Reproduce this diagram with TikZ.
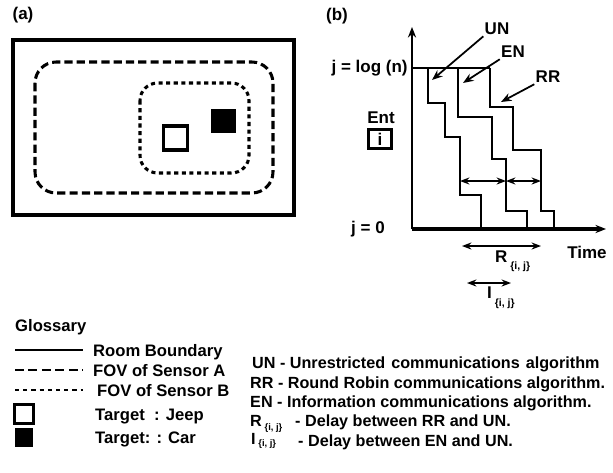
\documentclass[tikz,border=0pt]{standalone}
\usepackage{fontspec}
\setmainfont{Liberation Sans}
\usetikzlibrary{arrows.meta, positioning}

% lowered "{i, j}" index
\newcommand{\ijsub}[2][9]{\raisebox{#2}{\fontsize{#1}{#1}\selectfont\{i, j\}}}

\begin{document}
\begin{tikzpicture}[
  x=0.03cm, y=-0.03cm,
  lbl/.style={font=\fontsize{14.5}{16}\selectfont\bfseries, inner sep=1pt},
  txt/.style={font=\fontsize{14.2}{16}\selectfont\bfseries, inner sep=0pt, anchor=base west},
  keytxt/.style={txt, font=\fontsize{13.8}{16}\selectfont\bfseries},
  wall/.style={line width=3pt},
  fovA/.style={line width=2.6pt, dash pattern=on 7pt off 3.5pt, rounded corners=18pt},
  fovB/.style={line width=2.6pt, dash pattern=on 3.5pt off 3pt, rounded corners=15pt},
  stepline/.style={line width=1.6pt},
  pointer/.style={-{Stealth[length=9pt,width=7pt]}, line width=1.5pt},
  span/.style={{Stealth[length=8pt,width=6pt]}-{Stealth[length=8pt,width=6pt]}, line width=1.6pt},
  jeep/.style={draw, line width=2.6pt, fill=white, minimum size=20.5pt, inner sep=0pt},
  car/.style={fill=black, minimum size=21pt, inner sep=0pt}
]
  \useasboundingbox (0,0) rectangle (613,472);

  % --- (a) room ---
  \node[lbl] (tagA) at (23,15) {(a)};
  \draw[wall] (13,40) rectangle (294,215);
  \draw[fovA] (35,62) rectangle (273,193);
  \draw[fovB] (140,83) rectangle (249,173);
  \node[jeep] (jeepA) at (175.5,138) {};
  \node[car] (carA) at (223.5,121) {};

  % --- (b) entropy vs time ---
  \node[lbl] (tagB) at (337,16) {(b)};
  \coordinate (orig) at (412,229);
  \coordinate (ytop) at (412,27);
  \coordinate (xend) at (606,229);
  \draw[line width=2.2pt, -{Stealth[length=9pt,width=7pt]}] (orig) -- (ytop);
  \draw[line width=2.8pt, -{Stealth[length=9pt,width=7pt]}] (orig) -- (xend);

  \node[lbl, anchor=east] (jtop) at (409,68) {j = log (n)};
  \node[lbl] (jzero) at (368,229) {j = 0};
  \node[lbl] (ent) at (381,118) {Ent};
  \node[draw, line width=2.6pt, minimum width=20pt, minimum height=17pt,
    inner sep=0pt, font=\fontsize{14.5}{16}\selectfont\bfseries] (entbox) at (380,139) {i};

  % staircases
  \draw[stepline] (412,68) -- (490,68);
  \draw[stepline] (428,68) -- (428,103) -- (445,103) -- (445,137) -- (460,137)
    -- (460,195) -- (481,195) -- (481,228);
  \draw[stepline] (458,68) -- (458,117) -- (492,117) -- (492,159) -- (506,159)
    -- (506,211) -- (527,211) -- (527,228);
  \draw[stepline] (490,68) -- (490,107) -- (513,107) -- (513,150) -- (541,150)
    -- (541,211) -- (554,211) -- (554,228);

  % curve names
  \node[lbl] (lbUN) at (497,29) {UN};
  \node[lbl] (lbEN) at (513,52) {EN};
  \node[lbl] (lbRR) at (548,77) {RR};
  \coordinate (hUN) at (432,80);
  \coordinate (hEN) at (463,83);
  \coordinate (hRR) at (501,102);
  \draw[pointer] (lbUN.south west) -- (hUN);
  \draw[pointer] (lbEN.south west) -- (hEN);
  \draw[pointer] (lbRR.south west) -- (hRR);

  % delays
  \coordinate (d1) at (460,181);
  \coordinate (d2) at (506,181);
  \coordinate (d3) at (541,181);
  \draw[span] (d1) -- (d2);
  \draw[span] (d2) -- (d3);
  \coordinate (r1) at (462,246);
  \coordinate (r2) at (541,246);
  \draw[span] (r1) -- (r2);
  \coordinate (i1) at (467,283);
  \coordinate (i2) at (511,283);
  \draw[span] (i1) -- (i2);
  \node[txt, font=\fontsize{14.5}{16}\selectfont\bfseries] (lbR) at (495,262) {R\,\ijsub{-6.5pt}};
  \node[txt, font=\fontsize{14.5}{16}\selectfont\bfseries] (lbI) at (487,298) {I\,\ijsub{-7pt}};
  \node[lbl] (lbTime) at (587,252) {Time};

  % --- Glossary ---
  \node[txt] (gloss) at (15,331) {Glossary};
  \coordinate (g1a) at (15,350);
  \coordinate (g1b) at (83,350);
  \draw[line width=2.3pt] (g1a) -- (g1b);
  \node[txt] (gRoom) at (93,356) {Room Boundary};
  \coordinate (g2a) at (15,370);
  \coordinate (g2b) at (83,370);
  \draw[line width=2.3pt, dash pattern=on 7.5pt off 4pt] (g2a) -- (g2b);
  \node[txt] (gFovA) at (93,376) {FOV of Sensor A};
  \coordinate (g3a) at (15,390);
  \coordinate (g3b) at (83,390);
  \draw[line width=2.3pt, dash pattern=on 3.5pt off 3.5pt] (g3a) -- (g3b);
  \node[txt] (gFovB) at (97,396) {FOV of Sensor B};
  \node[jeep, minimum size=15.5pt] (gJeep) at (24,414) {};
  \node[txt] (tJeep) at (95,420) {Target\ \ : Jeep};
  \node[car, minimum size=16pt] (gCar) at (24,437.5) {};
  \node[txt] (tCar) at (95,443) {Target: : Car};

  \node[keytxt] (kUN) at (252,368) {UN - Unrestricted\hspace{0.1em} communications\hspace{0.1em} algorithm};
  \node[keytxt] (kRR) at (250,388) {RR - Round Robin communications algorithm.};
  \node[keytxt] (kEN) at (250,407) {EN - Information communications algorithm.};
  \node[keytxt] (kR) at (250,426) {R\,\ijsub[8]{-4pt}};
  \node[keytxt] (kRtxt) at (295,426) {- Delay between RR and UN.};
  \node[keytxt] (kI) at (251,444) {I\,\ijsub[8]{-2.5pt}};
  \node[keytxt] (kItxt) at (298,446) {- Delay between EN and UN.};
\end{tikzpicture}
\end{document}
